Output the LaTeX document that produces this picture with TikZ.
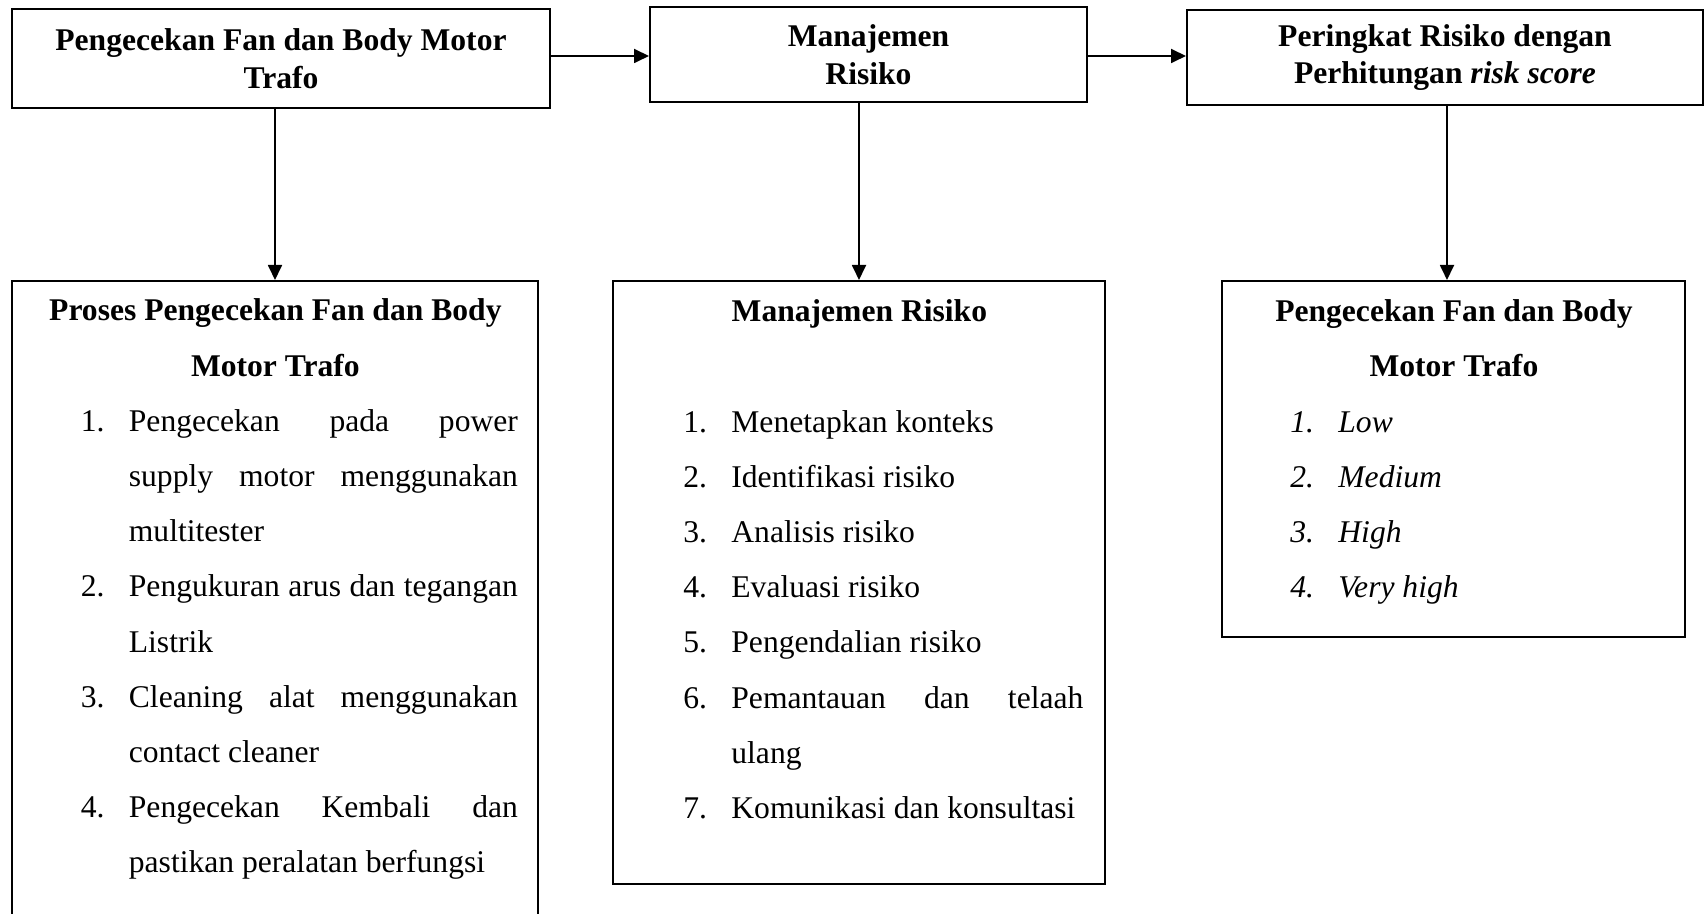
\documentclass[tikz,border=0pt]{standalone}
\usepackage{fontspec}
\setmainfont{Liberation Serif}
\usetikzlibrary{arrows.meta}

\newlength{\lebarnomor}
\setlength{\lebarnomor}{24pt}
\newcommand{\butir}[2]{\par\noindent\hangindent=\lebarnomor\hangafter=1\makebox[\lebarnomor][l]{#1}#2\par}

\tikzset{
  kotak/.style={draw, line width=1pt, inner sep=0pt},
  kotakatas/.style={kotak, align=center, font=\bfseries\fontsize{15.8}{18.75}\selectfont},
  isi/.style={anchor=base west, inner sep=0pt, align=justify, font=\fontsize{15.8}{27.6}\selectfont},
  panah/.style={line width=0.9pt, -{Triangle[length=7.5pt, width=7pt]}}
}

\begin{document}
\begin{tikzpicture}[x=0.5pt, y=-0.5pt]
\useasboundingbox (0,0) rectangle (1704,914);
\clip (0,0) rectangle (1704,914);

% kotak atas
\node[kotakatas, minimum width=269pt, minimum height=49.5pt] (cek) at (281,58.5) {Pengecekan Fan dan Body Motor\\Trafo};
\node[kotakatas, minimum width=218.5pt, minimum height=47.5pt] (manaj) at (868.5,54.5) {Manajemen\\Risiko};
\node[kotakatas, minimum width=258pt, minimum height=47.5pt] (peringkat) at (1445,57.5) {Peringkat Risiko dengan\\Perhitungan \textit{risk score}};

% kotak bawah
\node[kotak, anchor=north, minimum width=263pt, minimum height=350pt] (proses) at (275,280) {};
\node[kotak, anchor=north, minimum width=246pt, minimum height=301.5pt] (risiko) at (859,280) {};
\node[kotak, anchor=north, minimum width=231.5pt, minimum height=178pt] (skor) at (1453.5,280) {};

% isi kotak bawah
\node[isi, text width=242.5pt] (prosesisi) at (32.5,321) {%
  {\centering\bfseries Proses Pengecekan Fan dan Body\\Motor Trafo\par}
  \leftskip=24pt
  \butir{1.}{Pengecekan pada power\linebreak supply motor menggunakan\linebreak multitester}
  \butir{2.}{Pengukuran arus dan tegangan\linebreak Listrik}
  \butir{3.}{Cleaning alat menggunakan\linebreak contact cleaner}
  \butir{4.}{Pengecekan Kembali dan\linebreak pastikan peralatan berfungsi}};
\node[isi, text width=224pt] (risikoisi) at (635,321.7) {%
  {\centering\bfseries Manajemen Risiko\par}
  \mbox{}\par
  \leftskip=24pt
  \butir{1.}{Menetapkan konteks}
  \butir{2.}{Identifikasi risiko}
  \butir{3.}{Analisis risiko}
  \butir{4.}{Evaluasi risiko}
  \butir{5.}{Pengendalian risiko}
  \butir{6.}{Pemantauan dan telaah\linebreak ulang}
  \butir{7.}{Komunikasi dan konsultasi}};
\node[isi, text width=211.5pt] (skorisi) at (1242,321.7) {%
  {\centering\bfseries Pengecekan Fan dan Body\\Motor Trafo\par}
  \leftskip=24pt\itshape
  \butir{1.}{Low}
  \butir{2.}{Medium}
  \butir{3.}{High}
  \butir{4.}{Very high}};

% panah
\draw[panah] ([yshift=1.25pt]cek.east) -- ([yshift=1.25pt]cek.east -| manaj.west);
\draw[panah] ([yshift=-0.75pt]manaj.east) -- ([yshift=-0.75pt]manaj.east -| peringkat.west);
\draw[panah] (cek.south -| proses.north) -- (proses.north);
\draw[panah] (manaj.south -| risiko.north) -- (risiko.north);
\draw[panah] ([xshift=1pt]peringkat.south) -- ([xshift=1pt]peringkat.south |- skor.north);
\end{tikzpicture}
\end{document}
